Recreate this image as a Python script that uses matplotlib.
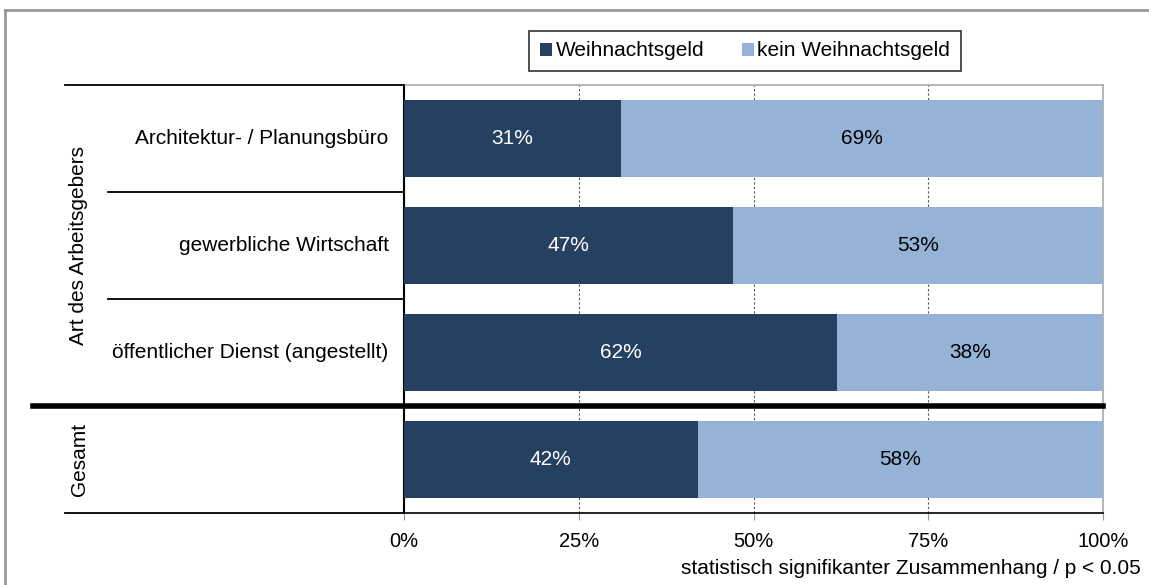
import matplotlib.pyplot as plt
from matplotlib import transforms
from matplotlib.lines import Line2D

plt.rcParams['font.family'] = ['Liberation Sans', 'DejaVu Sans']

# Daten
categories = ["Architektur- / Planungsbüro", "gewerbliche Wirtschaft",
              "öffentlicher Dienst (angestellt)", ""]
weihnachtsgeld = [31, 47, 62, 42]
kein_weihnachtsgeld = [69, 53, 38, 58]
series_names = ["Weihnachtsgeld", "kein Weihnachtsgeld"]
xticks = [0, 25, 50, 75, 100]

dark = '#264061'
light = '#95b3d7'
fs = 15

W, H = 1149, 585
fig = plt.figure(figsize=(W / 100, H / 100), dpi=100)
ax = fig.add_axes([404 / W, 1 - 513 / H, 699 / W, 428 / H])

y = list(range(len(categories)))
b1 = ax.barh(y, weihnachtsgeld, height=0.72, color=dark, label=series_names[0], zorder=3)
b2 = ax.barh(y, kein_weihnachtsgeld, left=weihnachtsgeld, height=0.72, color=light,
             label=series_names[1], zorder=3)

for i in y:
    ax.text(weihnachtsgeld[i] / 2, i, f"{weihnachtsgeld[i]}%", ha='center', va='center',
            color='white', fontsize=fs, zorder=4)
    ax.text(weihnachtsgeld[i] + kein_weihnachtsgeld[i] / 2, i, f"{kein_weihnachtsgeld[i]}%",
            ha='center', va='center', color='black', fontsize=fs, zorder=4)

ax.set_xlim(0, 100)
ax.set_ylim(len(categories) - 0.5, -0.5)
ax.set_xticks(xticks)
ax.set_xticklabels([f"{t}%" for t in xticks], fontsize=14.5)
ax.tick_params(axis='x', length=5, color='#999999', pad=9)
ax.set_yticks([])
ax.grid(axis='x', color='#555555', linestyle=(0, (2, 2)), linewidth=0.8, zorder=0)

for side in ['top', 'right']:
    ax.spines[side].set_color('#aaaaaa')
    ax.spines[side].set_linewidth(1.2)
ax.spines['left'].set_linewidth(1.5)
ax.spines['bottom'].set_linewidth(1.2)

# Kategorienbeschriftung links
for i, cat in enumerate(categories):
    ax.text(-2.2, i, cat, ha='right', va='center', fontsize=fs, clip_on=False)

# Trennlinien im Beschriftungsbereich
bt = transforms.blended_transform_factory(fig.transFigure, ax.transData)
for yy in [0.5, 1.5]:
    fig.add_artist(Line2D([108 / W, 404 / W], [yy, yy], transform=bt, color='black', lw=1.3))
for yy in [-0.5, 3.5]:
    fig.add_artist(Line2D([65 / W, 404 / W], [yy, yy], transform=bt, color='black', lw=1.3))
fig.add_artist(Line2D([33 / W, 1103 / W], [2.5, 2.5], transform=bt, color='black', lw=4, zorder=5))

ax.text(79 / W, 1.0, "Art des Arbeitsgebers", transform=bt, rotation=90, ha='center',
        va='center', fontsize=fs)
ax.text(79 / W, 3.0, "Gesamt", transform=bt, rotation=90, ha='center', va='center', fontsize=fs)

# Rahmen
fig.add_artist(Line2D([5 / W, 5 / W], [0, 1 - 10 / H], color='#999999', lw=2))
fig.add_artist(Line2D([5 / W, 1], [1 - 10 / H, 1 - 10 / H], color='#999999', lw=2))

leg = fig.legend(handles=[b1, b2], labels=series_names, loc='center', ncol=2,
                 bbox_to_anchor=(745 / W, 1 - 51 / H), fontsize=fs, frameon=True,
                 fancybox=False, edgecolor='black', handlelength=0.6, handleheight=0.6,
                 handletextpad=0.15, columnspacing=1.8, borderpad=0.5, borderaxespad=0)
leg.get_frame().set_linewidth(1.2)

fig.text(1141 / W, 1 - 568 / H, "statistisch signifikanter Zusammenhang / p < 0.05",
         ha='right', va='center', fontsize=fs)

fig.savefig('out.png', dpi=100)
